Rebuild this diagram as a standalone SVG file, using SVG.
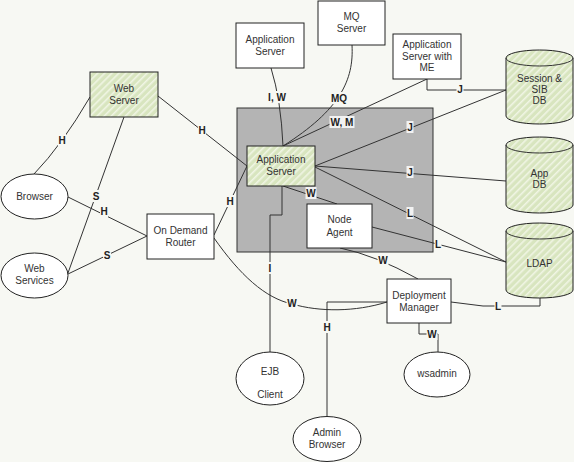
<svg xmlns="http://www.w3.org/2000/svg" width="574" height="462" viewBox="0 0 574 462">
<defs>
<pattern id="hatch" patternUnits="userSpaceOnUse" width="5" height="5" patternTransform="rotate(45)">
<rect width="5" height="5" fill="#d8e5bf"/>
<rect width="1.6" height="5" fill="#f0f5e4"/>
</pattern>
<style>
.box{fill:#fff;stroke:#222;stroke-width:1}
.grn{fill:url(#hatch);stroke:#222;stroke-width:1}
.t{font-family:"Liberation Sans",Arial,sans-serif;font-size:10px;fill:#333;text-anchor:middle}
.l{font-family:"Liberation Sans",Arial,sans-serif;font-size:10px;font-weight:bold;fill:#222;text-anchor:middle}
.c{fill:none;stroke:#333;stroke-width:1}
.bg{fill:#f7f8f3}
.bgi{fill:#f2f2f2}
</style>
</defs>
<rect width="574" height="462" fill="#f7f8f3"/>
<g id="cell">
<rect x="237" y="108" width="196" height="144" fill="#b4b4b4" stroke="#333" stroke-width="1"/>
</g>
<g id="connectors">
<path class="c" d="M90,97 Q62,145 34,174"/>
<path class="c" d="M124,117 L68,273"/>
<path class="c" d="M158,96 L247,166"/>
<path class="c" d="M68,197 L147,236"/>
<path class="c" d="M68,274 L147,236"/>
<path class="c" d="M214,235 L247,166"/>
<path class="c" d="M214,238 C240,275 265,298 292,304 C320,312 355,312 387,302"/>
<path class="c" d="M271,68 Q281,100 283,146"/>
<path class="c" d="M352,45 C354,80 340,110 283,146"/>
<path class="c" d="M283,146 L427,79"/>
<path class="c" d="M427,79 L427,90 L506,90"/>
<path class="c" d="M315,166 L506,90"/>
<path class="c" d="M315,166 L506,181"/>
<path class="c" d="M315,167 L506,262"/>
<path class="c" d="M372,227 L506,262"/>
<path class="c" d="M283,186 L337,204"/>
<path class="c" d="M282,186 L282,215 L270,215 L270,352"/>
<path class="c" d="M340,248 Q375,255 418,279"/>
<path class="c" d="M387,302 L327,302 L327,416"/>
<path class="c" d="M419,323 L419,334 L438,334 L438,352"/>
<path class="c" d="M451,302 L483,306 L540,306 L540,298"/>
<rect class="bg" x="58" y="134" width="8" height="12"/><text class="l" x="62" y="143.5">H</text>
<rect class="bg" x="92" y="190" width="8" height="12"/><text class="l" x="96" y="199.5">S</text>
<rect class="bg" x="198" y="124" width="8" height="12"/><text class="l" x="202" y="133.5">H</text>
<rect class="bg" x="100" y="205" width="8" height="12"/><text class="l" x="104" y="214.5">H</text>
<rect class="bg" x="103" y="249" width="8" height="12"/><text class="l" x="107" y="258.5">S</text>
<rect class="bg" x="226" y="195" width="8" height="12"/><text class="l" x="230" y="204.5">H</text>
<rect class="bg" x="286.5" y="297" width="11" height="12"/><text class="l" x="292" y="306.5">W</text>
<rect class="bg" x="267" y="91" width="20" height="12"/><text class="l" x="277" y="100.5">I, W</text>
<rect class="bg" x="330.5" y="92" width="17" height="12"/><text class="l" x="339" y="101.5">MQ</text>
<rect class="bgi" x="329.5" y="116" width="25" height="12"/><text class="l" x="342" y="125.5">W, M</text>
<rect class="bg" x="456.5" y="83" width="7" height="12"/><text class="l" x="460" y="92.5">J</text>
<rect class="bgi" x="406.5" y="121" width="7" height="12"/><text class="l" x="410" y="130.5">J</text>
<rect class="bgi" x="406.5" y="166" width="7" height="12"/><text class="l" x="410" y="175.5">J</text>
<rect class="bgi" x="406.5" y="207" width="7" height="12"/><text class="l" x="410" y="216.5">L</text>
<rect class="bgi" x="305.5" y="187" width="11" height="12"/><text class="l" x="311" y="196.5">W</text>
<rect class="bg" x="267.5" y="262" width="5" height="12"/><text class="l" x="270" y="271.5">I</text>
<rect class="bg" x="434.5" y="238" width="7" height="12"/><text class="l" x="438" y="247.5">L</text>
<rect class="bg" x="377.5" y="254" width="11" height="12"/><text class="l" x="383" y="263.5">W</text>
<rect class="bg" x="323" y="321" width="8" height="12"/><text class="l" x="327" y="330.5">H</text>
<rect class="bg" x="426.5" y="328" width="11" height="12"/><text class="l" x="432" y="337.5">W</text>
<rect class="bg" x="494.5" y="300" width="7" height="12"/><text class="l" x="498" y="309.5">L</text>
</g>
<g id="appserver-top"><rect class="box" x="236" y="23" width="68" height="45"/><text class="t" x="270" y="43">Application</text><text class="t" x="270" y="55">Server</text></g>
<g id="mq-server"><rect class="box" x="318" y="1" width="67" height="44"/><text class="t" x="351.5" y="20">MQ</text><text class="t" x="351.5" y="32">Server</text></g>
<g id="appserver-me"><rect class="box" x="393" y="34" width="68" height="45"/><text class="t" x="427" y="48">Application</text><text class="t" x="427" y="60">Server with</text><text class="t" x="427" y="71">ME</text></g>
<g id="web-server"><rect class="grn" x="90" y="72" width="68" height="45"/><text class="t" x="124" y="92">Web</text><text class="t" x="124" y="104">Server</text></g>
<g id="appserver"><rect class="grn" x="247" y="146" width="68" height="40"/><text class="t" x="281" y="163">Application</text><text class="t" x="281" y="175">Server</text></g>
<g id="node-agent"><rect class="box" x="307" y="204" width="65" height="44"/><text class="t" x="339.5" y="223">Node</text><text class="t" x="339.5" y="236">Agent</text></g>
<g id="deployment-manager"><rect class="box" x="387" y="279" width="64" height="44"/><text class="t" x="419" y="299">Deployment</text><text class="t" x="419" y="311">Manager</text></g>
<g id="odr"><rect class="box" x="147" y="214" width="67" height="45"/><text class="t" x="180.5" y="234">On Demand</text><text class="t" x="180.5" y="246">Router</text></g>
<g id="browser"><ellipse class="box" cx="34.5" cy="196.5" rx="33.5" ry="22.5"/><text class="t" x="34.5" y="200">Browser</text></g>
<g id="web-services"><ellipse class="box" cx="34.5" cy="275.5" rx="33.5" ry="22.5"/><text class="t" x="34.5" y="272">Web</text><text class="t" x="34.5" y="284">Services</text></g>
<g id="ejb-client"><ellipse class="box" cx="270" cy="378.5" rx="34" ry="26.5"/><text class="t" x="270" y="375">EJB</text><text class="t" x="270" y="398">Client</text></g>
<g id="admin-browser"><ellipse class="box" cx="327" cy="439" rx="34" ry="22.5"/><text class="t" x="327" y="436">Admin</text><text class="t" x="327" y="448">Browser</text></g>
<g id="wsadmin"><ellipse class="box" cx="437" cy="374.5" rx="33" ry="22.5"/><text class="t" x="437" y="377">wsadmin</text></g>
<g id="session-db"><path class="grn" d="M506,58 A33.5,8 0 0 1 573,58 L573,116 A33.5,8 0 0 1 506,116 Z"/><path class="c" d="M506,58 A33.5,8 0 0 0 573,58" stroke="#222"/><text class="t" x="539.5" y="82">Session &amp;</text><text class="t" x="539.5" y="93">SIB</text><text class="t" x="539.5" y="104">DB</text></g>
<g id="app-db"><path class="grn" d="M506,145 A33.5,8 0 0 1 573,145 L573,205 A33.5,8 0 0 1 506,205 Z"/><path class="c" d="M506,145 A33.5,8 0 0 0 573,145" stroke="#222"/><text class="t" x="539.5" y="177">App</text><text class="t" x="539.5" y="188">DB</text></g>
<g id="ldap"><path class="grn" d="M506,231 A33.5,8 0 0 1 573,231 L573,290 A33.5,8 0 0 1 506,290 Z"/><path class="c" d="M506,231 A33.5,8 0 0 0 573,231" stroke="#222"/><text class="t" x="539.5" y="267">LDAP</text></g>
</svg>
